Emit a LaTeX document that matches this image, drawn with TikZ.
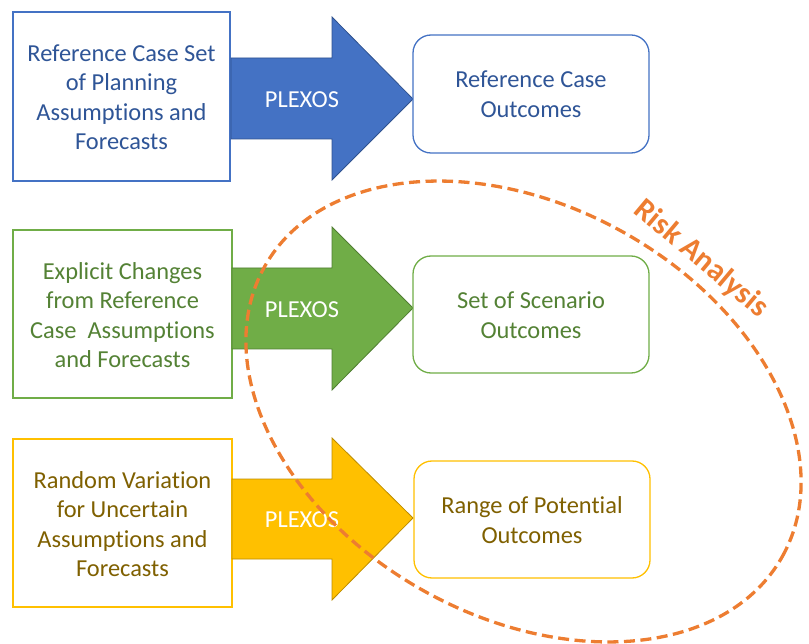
\documentclass[tikz,border=0pt]{standalone}
\usepackage{fontspec}
\setmainfont{Carlito}[Ligatures={NoCommon}]
\begin{document}
\begin{tikzpicture}[x=1pt,y=-1pt,
  inbox/.style={draw=#1,line width=1.3pt,fill=white},
  outbox/.style={draw=#1,line width=1.3pt,fill=white,rounded corners=18pt},
  txt/.style={align=center,font=\fontsize{24.4}{29.5}\selectfont,text=#1,inner sep=0pt},
  ptxt/.style={font=\fontsize{24.4}{29}\selectfont,text=white,inner sep=0pt}]
\definecolor{bline}{HTML}{4472C4}
\definecolor{btext}{HTML}{2F5597}
\definecolor{bdark}{HTML}{2F528F}
\definecolor{gline}{HTML}{70AD47}
\definecolor{gtext}{HTML}{548235}
\definecolor{gdark}{HTML}{507E32}
\definecolor{yline}{HTML}{FFC000}
\definecolor{ytext}{HTML}{7F6000}
\definecolor{ydark}{HTML}{BC8C00}
\definecolor{orng}{HTML}{ED7D31}
\useasboundingbox (0,0) rectangle (809,644);
% row 1
\draw[inbox=bline] (13,12) rectangle (230,181);
\node[txt=btext] (in1) at (121.5,97) {Reference Case Set\\of Planning\\Assumptions and\\Forecasts};
\draw[fill=bline,draw=bdark,line width=0.8pt] (231,58) -- (332,58) -- (332,17) -- (413,99) -- (332,180) -- (332,139) -- (231,139) -- cycle;
\node[ptxt] (p1) at (302,100) {PLEXOS};
\draw[outbox=bline] (413,35) rectangle (649,153);
\node[txt=btext] (out1) at (531,94) {Reference Case\\Outcomes};
% row 2
\draw[inbox=gline] (13,230) rectangle (232,398);
\node[txt=gtext] (in2) at (122.5,315) {Explicit Changes\\from Reference\\Case~ Assumptions\\and Forecasts};
\draw[fill=gline,draw=gdark,line width=0.8pt] (232,268) -- (332,268) -- (332,227) -- (413,308) -- (332,390) -- (332,349) -- (232,349) -- cycle;
\node[ptxt] (p2) at (302,310) {PLEXOS};
\draw[outbox=gline] (413,256) rectangle (649,373);
\node[txt=gtext] (out2) at (531,315) {Set of Scenario\\Outcomes};
% row 3
\draw[inbox=yline] (13,439) rectangle (232,607);
\node[txt=ytext] (in3) at (122.5,524) {Random Variation\\for Uncertain\\Assumptions and\\Forecasts};
\draw[fill=yline,draw=ydark,line width=0.8pt] (232,479) -- (332,479) -- (332,438) -- (413,518) -- (332,600) -- (332,559) -- (232,559) -- cycle;
\node[ptxt] (p3) at (302,520) {PLEXOS};
\draw[outbox=yline] (414,461) rectangle (650,578);
\node[txt=ytext] (out3) at (532,520) {Range of Potential\\Outcomes};
% risk ellipse
\draw[orng,line width=3.3pt,dash pattern=on 11pt off 5.5pt,rotate around={-29.3:(523.5,411.5)}] (523.5,411.5) ellipse [x radius=296.7pt,y radius=205.2pt];
\node[text=orng,font=\fontsize{31}{31}\selectfont\bfseries,rotate=-40,inner sep=0pt] (risk) at (701,259) {Risk Analysis};
\end{tikzpicture}
\end{document}
